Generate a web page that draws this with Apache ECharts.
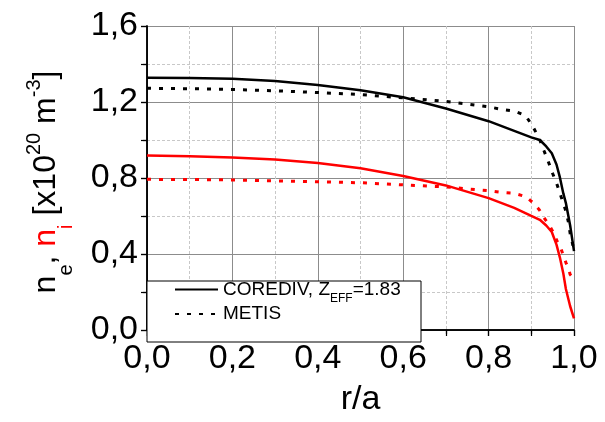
<!DOCTYPE html>
<html>
<head>
<meta charset="utf-8">
<script src="https://cdn.jsdelivr.net/npm/echarts@6/dist/echarts.min.js"></script>
<style>html,body{margin:0;padding:0;background:#fff}#c{width:605px;height:422px}</style>
</head>
<body>
<div id="c"></div>
<script>
// Data
var xCorediv = [0, 0.1, 0.2, 0.3, 0.4, 0.5, 0.6, 0.7, 0.8, 0.86, 0.9, 0.92, 0.935, 0.948, 0.959, 0.967, 0.975, 0.981, 0.991, 1.0];
var neCorediv = [1.328, 1.326, 1.322, 1.310, 1.290, 1.262, 1.225, 1.166, 1.099, 1.048, 1.014, 1.000, 0.966, 0.930, 0.871, 0.803, 0.719, 0.668, 0.550, 0.415];
var niCorediv = [0.918, 0.915, 0.908, 0.898, 0.879, 0.851, 0.811, 0.761, 0.694, 0.643, 0.601, 0.580, 0.550, 0.516, 0.449, 0.381, 0.297, 0.216, 0.125, 0.061];
var xMetis = [0, 0.1, 0.2, 0.3, 0.4, 0.5, 0.6, 0.7, 0.8, 0.83, 0.86, 0.887, 0.905, 0.919, 0.93, 0.941, 0.95, 0.961, 0.97, 0.981, 0.987, 0.991, 1.0];
var neMetis = [1.272, 1.270, 1.266, 1.259, 1.250, 1.239, 1.222, 1.203, 1.175, 1.161, 1.152, 1.128, 1.065, 1.006, 0.942, 0.879, 0.824, 0.761, 0.700, 0.626, 0.567, 0.508, 0.420];
var niMetis = [0.793, 0.792, 0.790, 0.785, 0.780, 0.775, 0.764, 0.753, 0.733, 0.724, 0.719, 0.702, 0.668, 0.632, 0.590, 0.555, 0.520, 0.465, 0.425, 0.355, 0.325, 0.292, 0.270];
var xTicks = {min: 0, max: 1.0, interval: 0.2};
var yTicks = {min: 0, max: 1.6, interval: 0.4};

function pairs(xs, ys) { return xs.map(function (x, i) { return [x, ys[i]]; }); }
function fmt(v) { return v.toFixed(1).replace('.', ','); }

var FONT = 'Liberation Sans';
var chart = echarts.init(document.getElementById('c'), null, {renderer: 'canvas'});
var axisLine = {show: true, lineStyle: {color: '#000', width: 1.5}};
function baseX(pos, main) {
  return {
    type: 'value', position: pos, min: xTicks.min, max: xTicks.max, interval: xTicks.interval,
    axisLine: axisLine,
    axisTick: {show: true, inside: !main, length: 6, lineStyle: {color: '#000', width: 1.2}},
    minorTick: {show: true, splitNumber: 2, length: main ? 4 : 6, lineStyle: {color: '#000', width: 1.2}},
    splitLine: {show: main, lineStyle: {color: '#8c8c8c', width: 1}},
    minorSplitLine: {show: main, lineStyle: {color: '#c8c8c8', width: 1, type: [3, 2]}},
    axisLabel: {show: main, formatter: fmt, fontFamily: FONT, fontSize: 34, color: '#000', margin: 12},
    name: main ? 'r/a' : '', nameLocation: 'middle', nameGap: 53,
    nameTextStyle: {fontFamily: FONT, fontSize: 34, color: '#000'}
  };
}
function baseY(pos, main) {
  return {
    type: 'value', position: pos, min: yTicks.min, max: yTicks.max, interval: yTicks.interval,
    axisLine: axisLine,
    axisTick: {show: true, inside: !main, length: 6, lineStyle: {color: '#000', width: 1.2}},
    minorTick: {show: true, splitNumber: 2, length: main ? 4 : 6, lineStyle: {color: '#000', width: 1.2}},
    splitLine: {show: main, lineStyle: {color: '#8c8c8c', width: 1}},
    minorSplitLine: {show: main, lineStyle: {color: '#c8c8c8', width: 1, type: [3, 2]}},
    axisLabel: {show: main, formatter: fmt, fontFamily: FONT, fontSize: 34, color: '#000', margin: 9}
  };
}
var dotted = [4, 8];
var option = {
  animation: false,
  backgroundColor: '#fff',
  grid: {left: 147, right: 31, top: 26, bottom: 80},
  xAxis: [baseX('bottom', true), baseX('top', false)],
  yAxis: [baseY('left', true), baseY('right', false)],
  legend: {
    data: ['COREDIV', 'METIS'], orient: 'vertical', left: 174, top: 280, padding: 0, itemGap: 0,
    itemWidth: 43, itemHeight: 14, z: 20, selectedMode: false,
    itemStyle: {opacity: 0},
    formatter: function (n) { return n === 'COREDIV' ? '{a|COREDIV, Z}{s|EFF}{a|=1.83}' : '{a|METIS}'; },
    textStyle: {
      fontFamily: FONT, color: '#000', padding: [0, 0, 0, 0],
      rich: {
        a: {fontFamily: FONT, fontSize: 19, lineHeight: 30, color: '#000'},
        s: {fontFamily: FONT, fontSize: 12, lineHeight: 16, verticalAlign: 'bottom', color: '#000'}
      }
    }
  },
  graphic: [
    {type: 'rect', z: 10, shape: {x: 147, y: 281, width: 274, height: 61},
      style: {fill: '#fff', stroke: '#000', lineWidth: 1}},
    {type: 'text', z: 10, x: 46, y: 182, rotation: Math.PI / 2,
      style: {
        text: '{m|n}{s|e}{m|, }{r|n}{rs|i}{m| [x10}{p|20}{m| m}{p|-3}{m|]}',
        align: 'center', verticalAlign: 'middle',
        rich: {
          m: {fontFamily: FONT, fontSize: 32, lineHeight: 60, fill: '#000'},
          r: {fontFamily: FONT, fontSize: 32, lineHeight: 60, fill: '#ff0000'},
          s: {fontFamily: FONT, fontSize: 20, lineHeight: 32, verticalAlign: 'bottom', fill: '#000'},
          rs: {fontFamily: FONT, fontSize: 20, lineHeight: 32, verticalAlign: 'bottom', fill: '#ff0000'},
          p: {fontFamily: FONT, fontSize: 20, padding: [0, 0, 23, 0], fill: '#000'}
        }
      }}
  ],
  series: [
    {name: 'COREDIV', type: 'line', data: pairs(xCorediv, neCorediv), symbol: 'none', color: '#000',
      lineStyle: {color: '#000', width: 2.5}, z: 5},
    {name: 'METIS', type: 'line', data: pairs(xMetis, neMetis), symbol: 'none', color: '#000',
      lineStyle: {color: '#000', width: 3, type: dotted, cap: 'butt'}, z: 5},
    {name: 'COREDIV ni', type: 'line', data: pairs(xCorediv, niCorediv), symbol: 'none', color: '#ff0000',
      lineStyle: {color: '#ff0000', width: 2.5}, z: 5},
    {name: 'METIS ni', type: 'line', data: pairs(xMetis, niMetis), symbol: 'none', color: '#ff0000',
      lineStyle: {color: '#ff0000', width: 3, type: dotted, cap: 'butt'}, z: 5}
  ]
};
chart.setOption(option);
</script>
</body>
</html>
